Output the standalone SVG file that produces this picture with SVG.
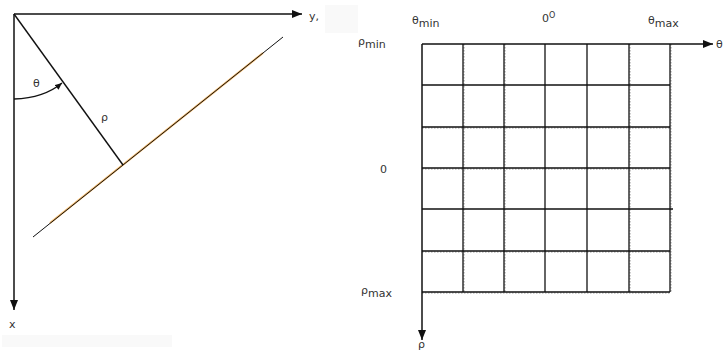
<svg xmlns="http://www.w3.org/2000/svg" width="725" height="352" viewBox="0 0 725 352">
<defs>
<marker id="ah" markerWidth="10" markerHeight="8" refX="10" refY="4" orient="auto" markerUnits="userSpaceOnUse">
<path d="M0,0 L10,4 L0,8 Z" fill="#111"/>
</marker>
<marker id="ahs" markerWidth="7" markerHeight="6" refX="7" refY="3" orient="auto" markerUnits="userSpaceOnUse">
<path d="M0,0 L7,3 L0,6 Z" fill="#111"/>
</marker>
</defs>
<style>
.ax{stroke:#111;stroke-width:1.5;fill:none}
.g{stroke:#111;stroke-width:1.3;fill:none}
.gd{stroke:#999;stroke-width:1;stroke-dasharray:1.5 1.5;fill:none}
text{font-family:"DejaVu Sans","Liberation Sans",sans-serif;font-size:11px;fill:#333}
</style>
<rect x="325" y="5" width="33" height="28" fill="#f9f9f9"/>
<rect x="2" y="335" width="170" height="12" fill="#f9f9f9"/>
<g id="left-axes">
<line class="ax" x1="14" y1="14" x2="302" y2="14" marker-end="url(#ah)"/>
<line class="ax" x1="14" y1="14" x2="14" y2="310" marker-end="url(#ah)"/>
<text x="309" y="20">y,</text>
<text x="9" y="328">x</text>
</g>
<g id="left-line">
<line x1="50" y1="223" x2="263" y2="53" stroke="#f3b86a" stroke-width="2.2"/>
<line x1="33" y1="237" x2="283" y2="37" stroke="#111" stroke-width="1"/>
</g>
<g id="normal">
<line x1="14" y1="14" x2="123" y2="165" stroke="#111" stroke-width="1.4"/>
<path d="M14,99 Q44,98 62,83" fill="none" stroke="#111" stroke-width="1.3" marker-end="url(#ahs)"/>
<text x="33" y="87">θ</text>
<text x="101" y="121">ρ</text>
</g>
<g id="grid">
<g class="gd">
<line x1="422" y1="128" x2="670" y2="128"/>
<line x1="422" y1="169" x2="670" y2="169"/>
<line x1="422" y1="252" x2="670" y2="252"/>
<line x1="422" y1="293" x2="671" y2="293"/>
<line x1="464" y1="44" x2="464" y2="292"/>
<line x1="505" y1="44" x2="505" y2="292"/>
<line x1="630" y1="44" x2="630" y2="292"/>
<line x1="671" y1="44" x2="671" y2="292"/>
</g>
<g class="g">
<line x1="422" y1="85" x2="670" y2="85"/>
<line x1="422" y1="127" x2="670" y2="127"/>
<line x1="422" y1="168" x2="670" y2="168"/>
<line x1="422" y1="209" x2="673" y2="209"/>
<line x1="422" y1="251" x2="670" y2="251"/>
<line x1="422" y1="292" x2="670" y2="292"/>
<line x1="463" y1="44" x2="463" y2="292"/>
<line x1="504" y1="44" x2="504" y2="292"/>
<line x1="545" y1="44" x2="545" y2="292"/>
<line x1="587" y1="44" x2="587" y2="292"/>
<line x1="629" y1="44" x2="629" y2="292"/>
<line x1="670" y1="44" x2="670" y2="292"/>
</g>
</g>
<g id="right-axes">
<line class="ax" x1="422" y1="44" x2="713" y2="44" marker-end="url(#ah)"/>
<line class="ax" x1="422" y1="44" x2="422" y2="340" marker-end="url(#ah)"/>
<text x="716" y="48">θ</text>
<text x="418" y="348" font-size="10">ρ</text>
</g>
<g id="labels">
<text x="412" y="24">θ<tspan dy="3">min</tspan></text>
<text x="542" y="22">0<tspan dy="-4" font-size="8">O</tspan></text>
<text x="648" y="24">θ<tspan dy="3">max</tspan></text>
<text x="358" y="45">ρ<tspan dy="3">min</tspan></text>
<text x="380" y="173">0</text>
<text x="361" y="294">ρ<tspan dy="3">max</tspan></text>
</g>
</svg>
